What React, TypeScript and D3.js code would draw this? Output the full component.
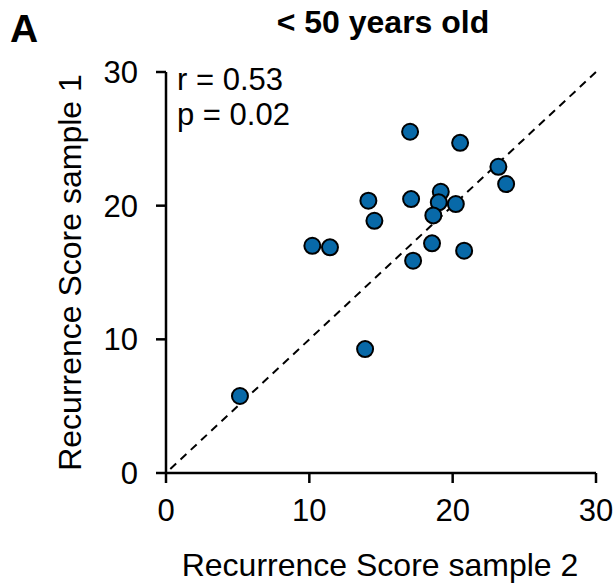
import React from "react";
import * as d3 from "d3";

const sample2 = [17.03, 20.52, 23.19, 23.73, 14.12, 17.1, 19.17, 19.03, 20.22, 14.54, 18.65, 10.21, 11.44, 18.56, 20.8, 17.24, 13.89, 5.16];
const sample1 = [25.53, 24.7, 22.91, 21.62, 20.37, 20.49, 21.04, 20.25, 20.12, 18.87, 19.27, 17.0, 16.88, 17.18, 16.63, 15.88, 9.27, 5.76];
const ticks = [0, 10, 20, 30];
const title = "< 50 years old";
const panel = "A";
const stats = ["r = 0.53", "p = 0.02"];
const xLabel = "Recurrence Score sample 2";
const yLabel = "Recurrence Score sample 1";

export default function App() {
  const W = 616, H = 588;
  const x = d3.scaleLinear().domain([0, 30]).range([166, 596]);
  const y = d3.scaleLinear().domain([0, 30]).range([473, 72]);
  const font = "Liberation Sans, Arial, sans-serif";
  const pts = sample2.map((v, i) => [v, sample1[i]]);
  return (
    <svg width={W} height={H} style={{ position: "absolute", left: 0, top: 0 }} fontFamily={font}>
      <rect width={W} height={H} fill="#fff" />
      <text x={10} y={42} fontSize={39} fontWeight="bold">{panel}</text>
      <text x={383} y={33} fontSize={32} fontWeight="bold" textAnchor="middle">{title}</text>
      <line x1={x(0.3)} y1={y(0.3)} x2={x(30)} y2={y(30)} stroke="#000" strokeWidth={2} strokeDasharray="8,6" />
      <line x1={x(0)} y1={y(0)} x2={x(30)} y2={y(0)} stroke="#000" strokeWidth={2.5} />
      <line x1={x(0)} y1={y(0)} x2={x(0)} y2={y(30)} stroke="#000" strokeWidth={2.5} />
      {ticks.map((t) => (
        <g key={"x" + t}>
          <line x1={x(t)} x2={x(t)} y1={y(0)} y2={y(0) + 10} stroke="#000" strokeWidth={2.5} />
          <text x={x(t)} y={y(0) + 48} fontSize={31} textAnchor="middle">{t}</text>
        </g>
      ))}
      {ticks.map((t) => (
        <g key={"y" + t}>
          <line x1={x(0) - 10} x2={x(0)} y1={y(t)} y2={y(t)} stroke="#000" strokeWidth={2.5} />
          <text x={x(0) - 28} y={y(t) + 11} fontSize={31} textAnchor="end">{t}</text>
        </g>
      ))}
      {pts.map(([a, b], i) => (
        <circle key={i} cx={x(a)} cy={y(b)} r={8} fill="#0869a8" stroke="#000" strokeWidth={2} />
      ))}
      {stats.map((s, i) => (
        <text key={s} x={177} y={90 + i * 35} fontSize={31}>{s}</text>
      ))}
      <text x={380} y={576} fontSize={32} textAnchor="middle">{xLabel}</text>
      <text transform={`translate(81,${y(15)}) rotate(-90)`} fontSize={32} textAnchor="middle">{yLabel}</text>
    </svg>
  );
}
